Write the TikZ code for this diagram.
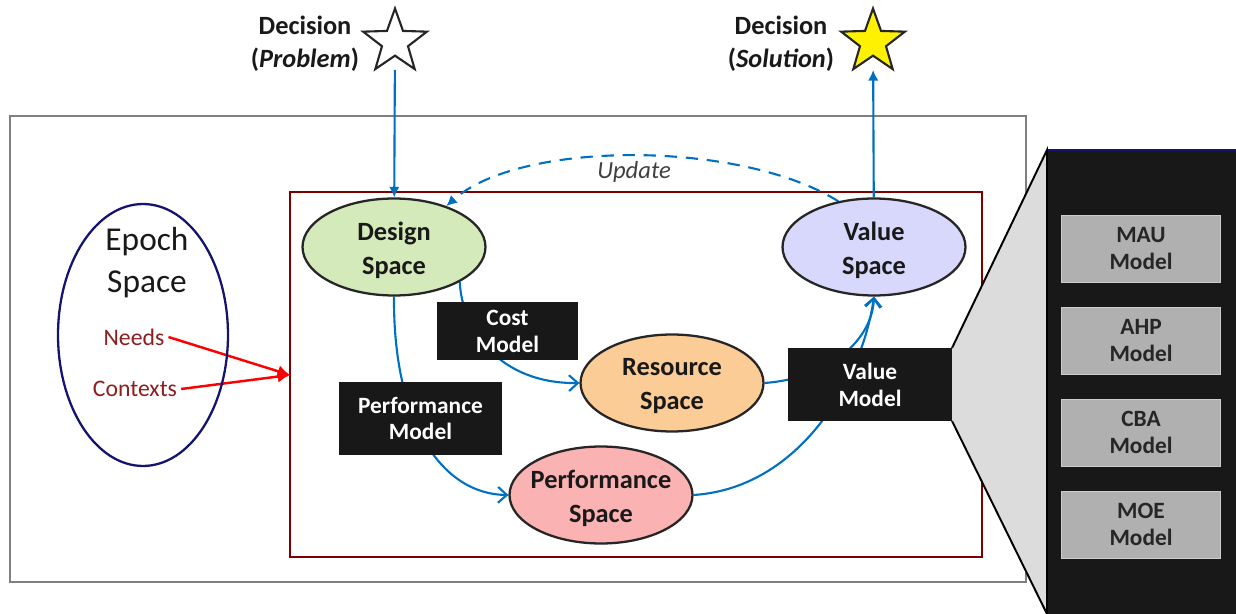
\documentclass[tikz,border=0pt]{standalone}
\usepackage{fontspec}
\setmainfont{Carlito}
\usetikzlibrary{shapes.geometric,arrows.meta}
\definecolor{arrowblue}{RGB}{0,112,192}
\definecolor{boxblack}{RGB}{24,24,24}
\definecolor{gboxfill}{RGB}{176,176,176}
\definecolor{trapfill}{RGB}{220,220,220}
\definecolor{darkred}{RGB}{128,0,0}
\definecolor{epochtext}{RGB}{140,30,30}
\definecolor{designfill}{RGB}{212,234,186}
\definecolor{valuefill}{RGB}{216,216,252}
\definecolor{resfill}{RGB}{252,204,150}
\definecolor{perffill}{RGB}{251,178,178}
\definecolor{navy}{RGB}{20,20,110}
\pgfdeclarelayer{bg}
\pgfdeclarelayer{mid}
\pgfsetlayers{bg,mid,main}
\tikzset{
  spacenode/.style={ellipse, draw=black!85, line width=1.3pt, minimum width=3.66cm, minimum height=1.94cm, inner sep=0pt, align=center, font=\fontsize{15}{19.3}\selectfont\bfseries, text=black!90},
  spacetext/.style={align=center, font=\fontsize{15}{19.3}\selectfont\bfseries, text=black!90, inner sep=0pt},
  mbox/.style={rectangle, fill=boxblack, draw=none, align=center, text=white, font=\fontsize{13.3}{15.3}\selectfont\bfseries, inner sep=0pt},
  gbox/.style={rectangle, fill=gboxfill, draw=gray!40, align=center, font=\fontsize{13.3}{15.3}\selectfont\bfseries, text=black!85, minimum width=3.18cm, minimum height=1.34cm, inner sep=0pt},
  flow/.style={draw=arrowblue, line width=1.2pt, -{Straight Barb[length=5pt,width=9pt]}},
  vflow/.style={draw=arrowblue, line width=1.2pt, -{Latex[length=6pt,width=6pt]}},
  redarrow/.style={draw=red, line width=1.4pt, -{Latex[length=7pt,width=7pt]}},
  decstar/.style={star, star points=5, star point ratio=2.45, minimum size=1.34cm, inner sep=0pt, draw=black!85, line width=1.2pt},
  dectext/.style={align=center, font=\fontsize{15}{18.7}\selectfont\bfseries, text=black!90},
}
\begin{document}
\begin{tikzpicture}[x=0.02cm, y=-0.02cm]
\useasboundingbox (0,0) rectangle (1236,614);

% frames
\begin{pgfonlayer}{bg}
  \draw[gray, line width=1.2pt] (10,116) rectangle (1026,582);
  \draw[darkred, line width=1.2pt] (290,192) rectangle (982,557);
  % zoom panel
  \fill[boxblack] (1047,150) rectangle (1236,614);
  \draw[navy, line width=1.2pt] (1047,150) -- (1236,150);
  \filldraw[fill=trapfill, draw=black, line width=1.1pt] (952,348) -- (1047,150) -- (1047,614) -- (952,421);
\end{pgfonlayer}

% epoch space
\node[ellipse, draw=navy, line width=1.3pt, minimum width=3.4cm, minimum height=5.24cm, inner sep=0pt] (epoch) at (143,335) {};
\node[font=\fontsize{19}{23.8}\selectfont, text=black!90, align=center] (epochlabel) at (147,263) {Epoch\\Space};
\node[font=\fontsize{13.5}{16}\selectfont, text=epochtext, inner sep=1pt] (needs) at (134,337) {Needs};
\node[font=\fontsize{13.5}{16}\selectfont, text=epochtext, inner sep=1pt] (contexts) at (135,389) {Contexts};
\coordinate (redin) at (290,375);

% decision stars
\node[decstar, fill=white] (pstar) at (395,42) {};
\node[decstar, fill=yellow] (sstar) at (873,42) {};
\node[dectext] (ptext) at (305,44) {Decision\\(\textit{Problem})};
\node[dectext] (stext) at (781,44) {Decision\\(\textit{Solution})};

% spaces
\node[spacenode, fill=designfill] (design) at (394,247) {};
\node[spacenode, fill=valuefill] (value) at (874,247) {};
\node[spacenode, fill=resfill] (resource) at (672,383) {};
\node[spacenode, fill=perffill] (perf) at (601,495) {};
\node[spacetext] (designlabel) at (394,250) {Design\\Space};
\node[spacetext] (valuelabel) at (874,250) {Value\\Space};
\node[spacetext] (reslabel) at (672,386) {Resource\\Space};
\node[spacetext] (perflabel) at (601,498) {Performance\\Space};

% model boxes
\node[mbox, minimum width=2.82cm, minimum height=1.16cm] (cost) at (507.5,331) {Cost\\Model};
\node[mbox, minimum width=3.26cm, minimum height=1.46cm] (pmodel) at (420.5,418.5) {Performance\\Model};
\node[mbox, minimum width=3.28cm, minimum height=1.46cm] (vmodel) at (870,384.5) {Value\\Model};

% zoom boxes
\node[gbox] (mau) at (1141,248.5) {MAU\\Model};
\node[gbox] (ahp) at (1141,340.5) {AHP\\Model};
\node[gbox] (cba) at (1141,432.5) {CBA\\Model};
\node[gbox] (moe) at (1141,524.5) {MOE\\Model};

% connectors
\begin{pgfonlayer}{mid}
  \draw[redarrow] (needs.east) ++(2,0) -- (redin);
  \draw[redarrow] (contexts.east) ++(2,0) -- (redin);
  \draw[vflow, shorten <=0.26cm] (pstar) -- (design);
  \draw[vflow, shorten >=0.26cm] (value) -- (sstar);
  \draw[flow] (design.south) .. controls (393,420) and (440,494) .. (perf.west);
  \draw[flow] (design.-28) .. controls (462,330) and (500,384) .. (resource.west);
  \draw[flow] (resource.east) .. controls (830,378) and (872,340) .. (value.south);
  \draw[flow] (perf.east) .. controls (800,488) and (862,380) .. (value.south);
  \draw[draw=arrowblue, line width=1.2pt, dashed, dash pattern=on 7pt off 5pt, -{Latex[length=6pt,width=6pt]}]
    (value.128) .. controls (740,140) and (520,140) .. (design.38);
\end{pgfonlayer}
\node[font=\fontsize{14}{16}\selectfont\itshape, text=black!75] (update) at (634,172) {Update};
\end{tikzpicture}
\end{document}
